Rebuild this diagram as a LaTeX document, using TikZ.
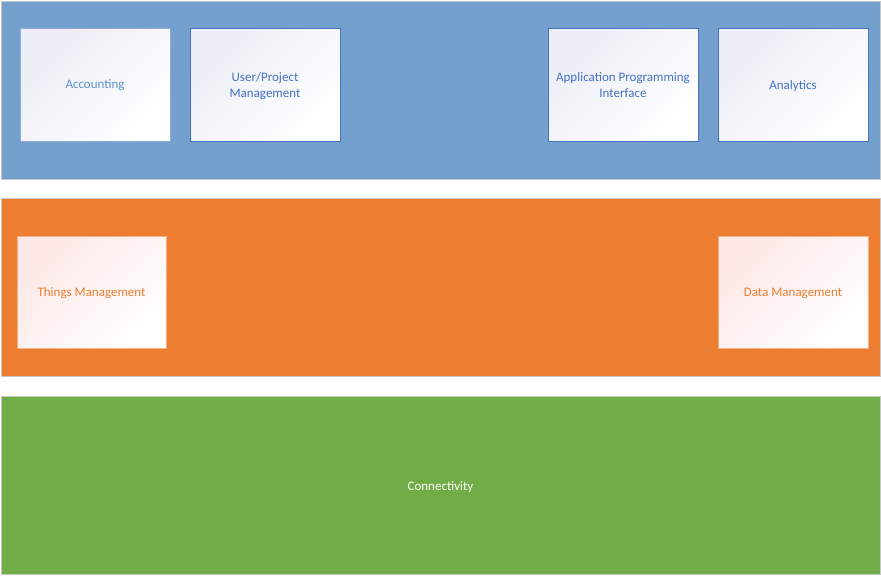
\documentclass[tikz,border=0pt]{standalone}
\usepackage{fontspec}
\setmainfont{Carlito}
\definecolor{layeredge}{RGB}{200,200,200}
\definecolor{appblue}{RGB}{116,160,206}
\definecolor{coreorange}{RGB}{237,125,49}
\definecolor{netgreen}{RGB}{112,173,71}
\definecolor{boxblue}{RGB}{68,114,196}
\definecolor{paleblue}{RGB}{143,170,220}
\definecolor{textblue}{RGB}{91,143,204}
\definecolor{paleorange}{RGB}{244,177,131}
\definecolor{tintblue}{RGB}{236,237,246}
\definecolor{tintorange}{RGB}{252,232,230}
\tikzset{
	layer/.style={draw=layeredge,line width=1pt,inner sep=0,outer sep=0,minimum width=879pt,minimum height=178pt,text depth=0pt,font=\fontsize{13}{16}\selectfont},
	module/.style={line width=1pt,inner sep=0,outer sep=0,minimum width=150pt,minimum height=113pt,align=center,text depth=0pt,font=\fontsize{13}{16}\selectfont,top color=#1,bottom color=white,shading angle=45},
	bluemod/.style={module=tintblue,draw=boxblue,text=boxblue},
	orangemod/.style={module=tintorange,draw=paleorange,text=coreorange},
}

\begin{document}
\begin{tikzpicture}[x=1pt,y=-1pt]
	\useasboundingbox (0,0) rectangle (881,576);
	\node[layer,fill=appblue] (app) at (440.5,90) {};
	\node[layer,fill=coreorange] (core) at (440.5,287.5) {};
	\node[layer,fill=netgreen,text=white] (net) at (440.5,485.5) {Connectivity};
	\node[bluemod,draw=paleblue,text=textblue] (acc) at (95,84.5) {Accounting};
	\node[bluemod] (usr) at (265,84.5) {User/Project\\Management};
	\node[bluemod] (api) at (623,84.5) {Application Programming\\Interface};
	\node[bluemod] (ana) at (793,84.5) {Analytics};
	\node[orangemod,minimum width=149pt,minimum height=112pt] (thg) at (91.5,292) {Things Management};
	\node[orangemod,minimum height=112pt] (dat) at (793,292) {Data Management};
\end{tikzpicture}
\end{document}
